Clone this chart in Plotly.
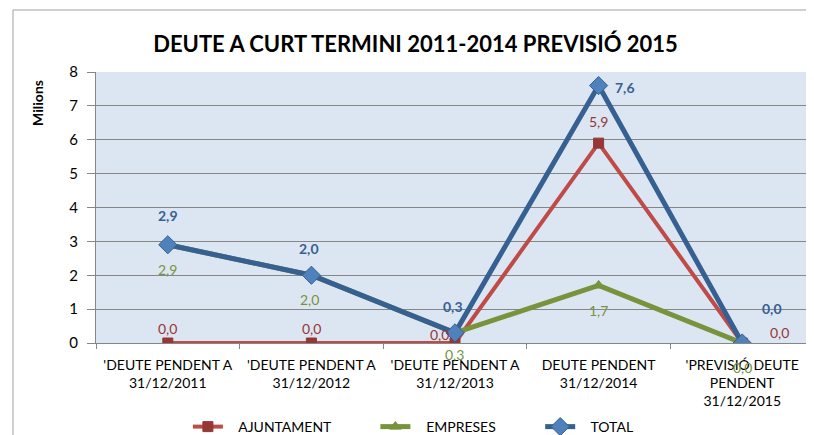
import plotly.graph_objects as go

categories = ["'DEUTE PENDENT A<br>31/12/2011", "'DEUTE PENDENT A<br>31/12/2012",
              "'DEUTE PENDENT A<br>31/12/2013", "DEUTE PENDENT<br>31/12/2014",
              "'PREVISIÓ DEUTE<br>PENDENT<br>31/12/2015"]
ajuntament = [0.0, 0.0, 0.0, 5.9, 0.0]
empreses = [2.9, 2.0, 0.3, 1.7, 0.0]
total = [2.9, 2.0, 0.3, 7.6, 0.0]
y_ticks = [0, 1, 2, 3, 4, 5, 6, 7, 8]

FONT = "Lato"
NB = "\u00a0"
fig = go.Figure()

series = [
    ("AJUNTAMENT", ajuntament, "#be4b48", "#953735", "square", 10, 4, 11),
    ("EMPRESES", empreses, "#77933c", "#77933c", "triangle-up", 10, 5, 11),
    ("TOTAL", total, "#376092", "#4f81bd", "diamond", 14, 5, 4),
]
for name, vals, lc, mc, sym, ms, lw, pad in series:
    fig.add_trace(go.Scatter(
        x=categories, y=vals, name=NB * 3 + name + NB * pad, mode="lines+markers",
        line=dict(color=lc, width=lw),
        marker=dict(symbol=sym, size=ms, color=mc,
                    line=dict(color=lc if name == "TOTAL" else mc, width=1)),
    ))

# label offsets (px) per series per point
offsets = {
    "AJUNTAMENT": [(0, -15), (0, -15), (-16, -9), (0, -22), (37, -11)],
    "EMPRESES": [(0, 25), (-2, 24), (-1, 22), (0, 25), (0, 24)],
    "TOTAL": [(0, -29), (-2, -27), (-2, -26), (26, 2), (30, -35)],
}
label_style = {
    "AJUNTAMENT": ("#953735", False),
    "EMPRESES": ("#77933c", False),
    "TOTAL": ("#376092", True),
}
for name, vals, *_ in series:
    col, bold = label_style[name]
    for i, v in enumerate(vals):
        dx, dy = offsets[name][i]
        txt = f"{v:.1f}".replace(".", ",")
        if bold:
            txt = f"<b>{txt}</b>"
        fig.add_annotation(x=i, y=v, text=txt, showarrow=False,
                           xshift=dx, yshift=-dy,
                           font=dict(family=FONT, size=14, color=col))

fig.update_layout(
    width=806, height=427,
    margin=dict(l=88, r=0, t=64, b=92, autoexpand=False),
    paper_bgcolor="white",
    plot_bgcolor="#dce6f2",
    title=dict(text="<b>DEUTE A CURT TERMINI 2011-2014 PREVISIÓ 2015</b>",
               x=0.5056, xanchor="center", y=0.9157, yanchor="middle",
               font=dict(family=FONT, size=22, color="black")),
    font=dict(family=FONT, size=14, color="black"),
    showlegend=True,
    legend=dict(orientation="h", x=0.128, xanchor="left", y=-0.31, yanchor="middle",
                font=dict(family=FONT, size=14, color="black"),
                tracegroupgap=0, bgcolor="rgba(0,0,0,0)"),
)
fig.update_xaxes(
    type="category", range=[-0.5, 4.5], showgrid=False, showline=True,
    linecolor="#868686", linewidth=1,
    ticks="outside", tickson="boundaries", ticklen=5, tickcolor="#868686",
    ticklabelstandoff=9,
    tickfont=dict(family=FONT, size=14, color="black"), automargin=False,
)
fig.update_yaxes(
    range=[0, 8], tickvals=y_ticks, showgrid=True, gridcolor="#868686", gridwidth=1,
    showline=True, linecolor="#868686", linewidth=1, zeroline=False,
    ticks="outside", ticklen=8, tickcolor="#868686", ticklabelstandoff=6,
    tickfont=dict(family=FONT, size=15, color="black"), automargin=False,
)
fig.add_annotation(xref="paper", yref="paper", x=-0.0808, y=0.886, text="<b>Milions</b>",
                   textangle=-90, showarrow=False, xanchor="center", yanchor="middle",
                   font=dict(family=FONT, size=14, color="black"))
# chart border
fig.add_shape(type="rect", xref="paper", yref="paper", x0=-0.1156, x1=1.05, y0=-0.5, y1=1.2288,
              line=dict(color="#a0a0a0", width=1), layer="below")

fig.write_html("out.html")
